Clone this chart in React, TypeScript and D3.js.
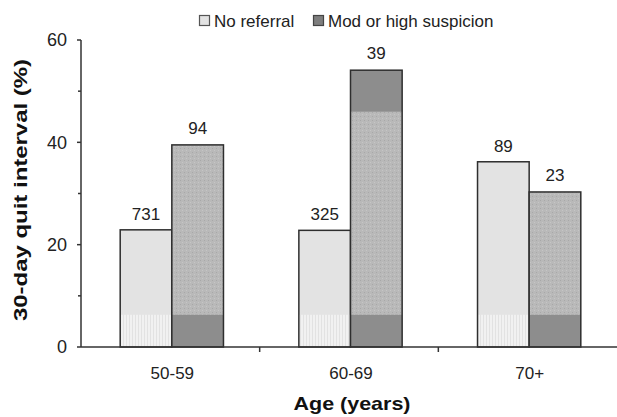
import React from 'react';
import * as d3 from 'd3';

// Data
const ageGroups = ['50-59', '60-69', '70+'];
const seriesNames = ['No referral', 'Mod or high suspicion'];
const noReferral = [22.9, 22.8, 36.2];
const modHigh = [39.5, 54.1, 30.3];
const nNoReferral = [731, 325, 89];
const nModHigh = [94, 39, 23];
const yTicks = [0, 20, 40, 60];
const yMinorTicks = [10, 30, 50];

const W = 617;
const H = 417;
const margin = { top: 40, right: 0, bottom: 70, left: 81 };
const FONT = '"Liberation Sans", Arial, Helvetica, sans-serif';

const App = () => {
  const x0 = d3.scaleBand<string>()
    .domain(ageGroups)
    .range([margin.left, W - margin.right])
    .padding(0);

  const x1 = d3.scaleBand<string>()
    .domain(['no', 'mod'])
    .range([0, x0.bandwidth()])
    .paddingInner(0)
    .paddingOuter(0.73);

  const y = d3.scaleLinear()
    .domain([0, 60])
    .range([H - margin.bottom, margin.top]);

  const y0 = y(0);
  const bw = x1.bandwidth();
  const shift = 1.5;

  // colours of the printed fills
  const cNo = '#e3e3e3';
  const cNoBottom = '#f1f1f1';
  const cMod = '#b9b9b9';
  const cModDark = '#8d8d8d';
  const stroke = '#2e2e2e';
  const bandTop = 6.3;

  const rows = ageGroups.map((g, i) => ({
    g,
    no: noReferral[i],
    mod: modHigh[i],
    nNo: nNoReferral[i],
    nMod: nModHigh[i],
  }));

  return (
    <div style={{ position: 'absolute', left: 0, top: 0 }}>
      <svg width={W} height={H} style={{ display: 'block', background: '#fff' }} fontFamily={FONT}>
        <defs>
          <pattern id="vlines" width="3" height="4" patternUnits="userSpaceOnUse">
            <rect width="3" height="4" fill={cNoBottom} />
            <rect width="1" height="4" fill="#e2e2e2" />
          </pattern>
          <pattern id="dots" width="4" height="4" patternUnits="userSpaceOnUse">
            <rect width="4" height="4" fill={cMod} />
            <rect x="0" y="0" width="1" height="1" fill="#a8a8a8" />
            <rect x="2" y="2" width="1" height="1" fill="#c6c6c6" />
          </pattern>
        </defs>

        {/* legend */}
        <g fontSize={17} fill="#222">
          <rect x={199.5} y={15.5} width={10} height={10} fill={cNo} stroke="#555" strokeWidth={1.2} />
          <text x={214} y={27}>{seriesNames[0]}</text>
          <rect x={313.5} y={15.5} width={10} height={10} fill="#7e7e7e" stroke="#444" strokeWidth={1.2} />
          <text x={328} y={27}>{seriesNames[1]}</text>
        </g>

        {/* bars */}
        {rows.map((r, i) => {
          const gx = x0(r.g)! + shift;
          const xn = gx + x1('no')!;
          const xm = gx + x1('mod')!;
          return (
            <g key={r.g}>
              <rect x={xn} y={y(r.no)} width={bw} height={y0 - y(r.no)} fill={cNo} />
              <rect x={xn} y={y(bandTop)} width={bw} height={y0 - y(bandTop)} fill="url(#vlines)" />
              <rect x={xn} y={y(r.no)} width={bw} height={y0 - y(r.no)} fill="none" stroke={stroke} strokeWidth={1.5} />

              <rect x={xm} y={y(r.mod)} width={bw} height={y0 - y(r.mod)} fill="url(#dots)" />
              {i === 1 && (
                <rect x={xm} y={y(r.mod)} width={bw} height={y(46) - y(r.mod)} fill={cModDark} />
              )}
              <rect x={xm} y={y(bandTop)} width={bw} height={y0 - y(bandTop)} fill={cModDark} />
              <rect x={xm} y={y(r.mod)} width={bw} height={y0 - y(r.mod)} fill="none" stroke={stroke} strokeWidth={1.5} />

              <text x={xn + bw / 2} y={y(r.no) - 10} textAnchor="middle" fontSize={17} fill="#222">{r.nNo}</text>
              <text x={xm + bw / 2} y={y(r.mod) - 11} textAnchor="middle" fontSize={17} fill="#222">{r.nMod}</text>
            </g>
          );
        })}

        {/* y axis */}
        <g stroke="#333" strokeWidth={1.5}>
          <line x1={margin.left} x2={margin.left} y1={y(60)} y2={y0} />
          {yTicks.map(t => (
            <line key={t} x1={margin.left - 4} x2={margin.left} y1={y(t)} y2={y(t)} />
          ))}
          {yMinorTicks.map(t => (
            <line key={t} x1={margin.left - 3} x2={margin.left} y1={y(t)} y2={y(t)} />
          ))}
        </g>
        {yTicks.map(t => (
          <text key={t} x={67} y={y(t)} dy="0.36em" textAnchor="end" fontSize={18} fill="#222">{t}</text>
        ))}

        {/* x axis */}
        <g stroke="#333" strokeWidth={1.5}>
          <line x1={margin.left} x2={W} y1={y0} y2={y0} />
          {ageGroups.slice(1).map(g => (
            <line key={g} x1={x0(g)!} x2={x0(g)!} y1={y0} y2={y0 + 5} />
          ))}
        </g>
        {ageGroups.map(g => (
          <text key={g} x={x0(g)! + x0.bandwidth() / 2 + 2} y={379} textAnchor="middle" fontSize={17} fill="#222">{g}</text>
        ))}

        {/* axis titles */}
        <text x={352} y={410} textAnchor="middle" fontSize={19} fontWeight="bold" fill="#111"
          textLength={117} lengthAdjust="spacingAndGlyphs">Age (years)</text>
        <text transform={`translate(27,${190}) rotate(-90)`} textAnchor="middle" fontSize={19} fontWeight="bold" fill="#111"
          textLength={262} lengthAdjust="spacingAndGlyphs">30-day quit interval (%)</text>
      </svg>
    </div>
  );
};

export default App;
